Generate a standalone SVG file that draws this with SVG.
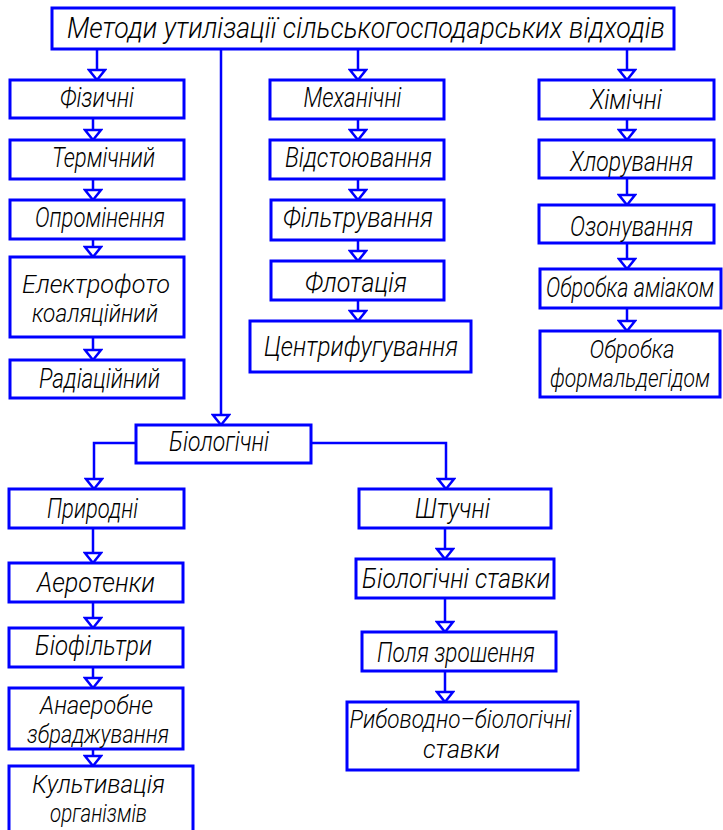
<svg xmlns="http://www.w3.org/2000/svg" width="723" height="830" viewBox="0 0 723 830">
<style>
.b{fill:#fff;stroke:#0000ff;stroke-width:3}
.c{fill:none;stroke:#0000ff;stroke-width:2.5}
.a{marker-end:url(#ah)}
text{font-family:Roboto,"Liberation Sans","DejaVu Sans Condensed",sans-serif;font-weight:300;font-style:italic;font-size:27px;fill:#000;text-anchor:middle}
.t{font-size:29px}
.m{font-size:25px}
</style>
<defs>
<marker id="ah" markerUnits="userSpaceOnUse" viewBox="0 0 14 20" refX="12" refY="10" markerWidth="14" markerHeight="20" orient="auto">
<path d="M2,2 L12,10 L2,18 Z" fill="#fff" stroke="#0000ff" stroke-width="2.5" stroke-linejoin="miter"/>
</marker>
</defs>
<rect width="723" height="830" fill="#fff"/>
<g id="connectors">
<path class="c a" d="M97,49 V80"/>
<path class="c a" d="M221,49 V425"/>
<path class="c a" d="M358,49 V80"/>
<path class="c a" d="M627,49 V80"/>
<path class="c a" d="M93,118 V140"/>
<path class="c a" d="M93,179 V200"/>
<path class="c a" d="M93,239 V257"/>
<path class="c a" d="M93,337 V360"/>
<path class="c a" d="M358,119 V140"/>
<path class="c a" d="M358,179 V200"/>
<path class="c a" d="M358,240 V261"/>
<path class="c a" d="M358,300 V321"/>
<path class="c a" d="M627,119 V140"/>
<path class="c a" d="M627,178 V205"/>
<path class="c a" d="M627,243 V269"/>
<path class="c a" d="M627,308 V331"/>
<path class="c a" d="M136,443 H94 V489"/>
<path class="c a" d="M311,443 H446 V489"/>
<path class="c a" d="M93,528 V563"/>
<path class="c a" d="M93,602 V628"/>
<path class="c a" d="M93,667 V688"/>
<path class="c a" d="M93,749 V766"/>
<path class="c a" d="M445,528 V559"/>
<path class="c a" d="M445,598 V632"/>
<path class="c a" d="M445,671 V702"/>
</g>
<g id="title"><rect class="b" x="52" y="8" width="622" height="41"/><text class="t" x="366" y="38" textLength="598" lengthAdjust="spacingAndGlyphs">Методи утилізації сільськогосподарських відходів</text></g>
<g id="fiz"><rect class="b" x="10" y="80" width="174" height="38"/><text x="97" y="107" textLength="74" lengthAdjust="spacingAndGlyphs">Фізичні</text></g>
<g id="term"><rect class="b" x="10" y="140" width="174" height="39"/><text x="103.5" y="167" textLength="103" lengthAdjust="spacingAndGlyphs">Термічний</text></g>
<g id="oprom"><rect class="b" x="10" y="200" width="174" height="39"/><text x="100" y="227" textLength="130" lengthAdjust="spacingAndGlyphs">Опромінення</text></g>
<g id="elek"><rect class="b" x="10" y="257" width="174" height="80"/><text class="m" x="96" y="293" textLength="148" lengthAdjust="spacingAndGlyphs">Електрофото</text><text class="m" x="95" y="322" textLength="126" lengthAdjust="spacingAndGlyphs">коаляційний</text></g>
<g id="rad"><rect class="b" x="10" y="360" width="174" height="38"/><text x="99.5" y="388" textLength="121" lengthAdjust="spacingAndGlyphs">Радіаційний</text></g>
<g id="mech"><rect class="b" x="270" y="80" width="174" height="39"/><text x="352.5" y="107" textLength="98" lengthAdjust="spacingAndGlyphs">Механічні</text></g>
<g id="vidst"><rect class="b" x="270" y="140" width="174" height="39"/><text x="358.5" y="167" textLength="147" lengthAdjust="spacingAndGlyphs">Відстоювання</text></g>
<g id="filtr"><rect class="b" x="271" y="200" width="173" height="40"/><text x="358" y="227" textLength="150" lengthAdjust="spacingAndGlyphs">Фільтрування</text></g>
<g id="flot"><rect class="b" x="271" y="261" width="173" height="39"/><text x="356" y="292" textLength="102" lengthAdjust="spacingAndGlyphs">Флотація</text></g>
<g id="centr"><rect class="b" x="250" y="321" width="221" height="51"/><text x="361" y="356" font-size="29" textLength="194" lengthAdjust="spacingAndGlyphs">Центрифугування</text></g>
<g id="chem"><rect class="b" x="539" y="80" width="175" height="39"/><text x="626" y="109" textLength="72" lengthAdjust="spacingAndGlyphs">Хімічні</text></g>
<g id="chlor"><rect class="b" x="539" y="140" width="175" height="38"/><text x="631.5" y="171" textLength="123" lengthAdjust="spacingAndGlyphs">Хлорування</text></g>
<g id="ozon"><rect class="b" x="539" y="205" width="175" height="38"/><text x="631.5" y="236" textLength="123" lengthAdjust="spacingAndGlyphs">Озонування</text></g>
<g id="amiak"><rect class="b" x="540" y="269" width="181" height="39"/><text x="630" y="297" textLength="168" lengthAdjust="spacingAndGlyphs">Обробка аміаком</text></g>
<g id="formal"><rect class="b" x="540" y="331" width="180" height="66"/><text class="m" x="632" y="358" textLength="85" lengthAdjust="spacingAndGlyphs">Обробка</text><text class="m" x="630" y="387" textLength="160" lengthAdjust="spacingAndGlyphs">формальдегідом</text></g>
<g id="bio"><rect class="b" x="136" y="425" width="175" height="38"/><text x="219" y="451" textLength="100" lengthAdjust="spacingAndGlyphs">Біологічні</text></g>
<g id="pryr"><rect class="b" x="9" y="489" width="175" height="39"/><text x="92.5" y="518" textLength="91" lengthAdjust="spacingAndGlyphs">Природні</text></g>
<g id="shtuch"><rect class="b" x="359" y="489" width="192" height="39"/><text x="452.5" y="518" textLength="75" lengthAdjust="spacingAndGlyphs">Штучні</text></g>
<g id="aero"><rect class="b" x="9" y="563" width="174" height="39"/><text x="96" y="592" textLength="118" lengthAdjust="spacingAndGlyphs">Аеротенки</text></g>
<g id="biof"><rect class="b" x="9" y="628" width="174" height="39"/><text x="93.5" y="655" textLength="117" lengthAdjust="spacingAndGlyphs">Біофільтри</text></g>
<g id="anaer"><rect class="b" x="9" y="688" width="174" height="61"/><text class="m" x="96.5" y="714" textLength="113" lengthAdjust="spacingAndGlyphs">Анаеробне</text><text class="m" x="98" y="743" textLength="142" lengthAdjust="spacingAndGlyphs">збраджування</text></g>
<g id="kult"><rect class="b" x="9" y="766" width="184" height="80"/><text class="m" x="98.5" y="793" textLength="133" lengthAdjust="spacingAndGlyphs">Культивація</text><text class="m" x="98.5" y="822" textLength="97" lengthAdjust="spacingAndGlyphs">організмів</text></g>
<g id="bstav"><rect class="b" x="356" y="559" width="198" height="39"/><text x="456" y="588" textLength="188" lengthAdjust="spacingAndGlyphs">Біологічні ставки</text></g>
<g id="pole"><rect class="b" x="362" y="632" width="194" height="39"/><text x="456" y="662" textLength="158" lengthAdjust="spacingAndGlyphs">Поля зрошення</text></g>
<g id="ryb"><rect class="b" x="347" y="702" width="231" height="68"/><text class="m" x="460.5" y="728" textLength="222" lengthAdjust="spacingAndGlyphs">Рибоводно–біологічні</text><text class="m" x="461.5" y="758" textLength="77" lengthAdjust="spacingAndGlyphs">ставки</text></g>
</svg>
